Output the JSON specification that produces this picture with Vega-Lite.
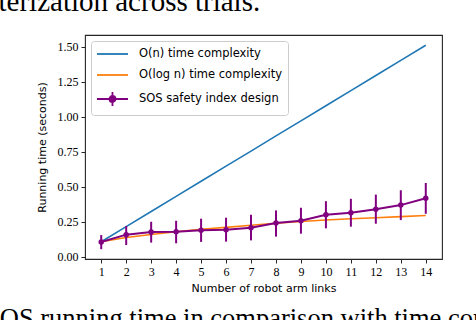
{
  "$schema": "https://vega.github.io/schema/vega-lite/v6.json",
  "autosize": "none",
  "width": 357,
  "height": 224,
  "padding": {"left": 85, "top": 35, "right": 34, "bottom": 61},
  "background": "white",
  "config": {
    "view": {"stroke": "#262626", "strokeWidth": 1.1},
    "axis": {
      "labelFont": "Liberation Serif", "labelFontSize": 12, "labelColor": "black", "labelOverlap": false,
      "tickColor": "#262626", "tickSize": 4, "tickWidth": 1, "domain": false, "grid": false,
      "titleFont": "DejaVu Sans", "titleFontSize": 11, "titleFontWeight": "normal", "titleColor": "black"
    }
  },
  "title": {
    "text": "SOS running time in comparison with time complexity.",
    "orient": "bottom", "anchor": "start", "frame": "group",
    "font": "Liberation Serif", "fontSize": 26.5, "fontWeight": "normal", "color": "black",
    "baseline": "top", "dx": -100, "offset": 13
  },
  "datasets": {
    "lines": [
      {"n": 1, "series": "O(n) time complexity", "time": 0.108},
      {"n": 2, "series": "O(n) time complexity", "time": 0.216},
      {"n": 3, "series": "O(n) time complexity", "time": 0.324},
      {"n": 4, "series": "O(n) time complexity", "time": 0.432},
      {"n": 5, "series": "O(n) time complexity", "time": 0.54},
      {"n": 6, "series": "O(n) time complexity", "time": 0.648},
      {"n": 7, "series": "O(n) time complexity", "time": 0.756},
      {"n": 8, "series": "O(n) time complexity", "time": 0.864},
      {"n": 9, "series": "O(n) time complexity", "time": 0.972},
      {"n": 10, "series": "O(n) time complexity", "time": 1.08},
      {"n": 11, "series": "O(n) time complexity", "time": 1.188},
      {"n": 12, "series": "O(n) time complexity", "time": 1.296},
      {"n": 13, "series": "O(n) time complexity", "time": 1.404},
      {"n": 14, "series": "O(n) time complexity", "time": 1.512},
      {"n": 1, "series": "O(log n) time complexity", "time": 0.108},
      {"n": 2, "series": "O(log n) time complexity", "time": 0.138},
      {"n": 3, "series": "O(log n) time complexity", "time": 0.16},
      {"n": 4, "series": "O(log n) time complexity", "time": 0.18},
      {"n": 5, "series": "O(log n) time complexity", "time": 0.197},
      {"n": 6, "series": "O(log n) time complexity", "time": 0.211},
      {"n": 7, "series": "O(log n) time complexity", "time": 0.226},
      {"n": 8, "series": "O(log n) time complexity", "time": 0.24},
      {"n": 9, "series": "O(log n) time complexity", "time": 0.253},
      {"n": 10, "series": "O(log n) time complexity", "time": 0.264},
      {"n": 11, "series": "O(log n) time complexity", "time": 0.273},
      {"n": 12, "series": "O(log n) time complexity", "time": 0.28},
      {"n": 13, "series": "O(log n) time complexity", "time": 0.288},
      {"n": 14, "series": "O(log n) time complexity", "time": 0.296}
    ],
    "sos": [
      {"n": 1, "series": "SOS safety index design", "time": 0.107, "lo": 0.055, "hi": 0.156},
      {"n": 2, "series": "SOS safety index design", "time": 0.159, "lo": 0.085, "hi": 0.22},
      {"n": 3, "series": "SOS safety index design", "time": 0.178, "lo": 0.102, "hi": 0.251},
      {"n": 4, "series": "SOS safety index design", "time": 0.18, "lo": 0.097, "hi": 0.258},
      {"n": 5, "series": "SOS safety index design", "time": 0.19, "lo": 0.107, "hi": 0.273},
      {"n": 6, "series": "SOS safety index design", "time": 0.194, "lo": 0.109, "hi": 0.28},
      {"n": 7, "series": "SOS safety index design", "time": 0.209, "lo": 0.118, "hi": 0.301},
      {"n": 8, "series": "SOS safety index design", "time": 0.242, "lo": 0.145, "hi": 0.332},
      {"n": 9, "series": "SOS safety index design", "time": 0.258, "lo": 0.166, "hi": 0.351},
      {"n": 10, "series": "SOS safety index design", "time": 0.301, "lo": 0.204, "hi": 0.398},
      {"n": 11, "series": "SOS safety index design", "time": 0.315, "lo": 0.216, "hi": 0.415},
      {"n": 12, "series": "SOS safety index design", "time": 0.341, "lo": 0.237, "hi": 0.445},
      {"n": 13, "series": "SOS safety index design", "time": 0.37, "lo": 0.263, "hi": 0.476},
      {"n": 14, "series": "SOS safety index design", "time": 0.419, "lo": 0.308, "hi": 0.528}
    ]
  },
  "resolve": {"axis": {"x": "independent"}},
  "layer": [
    {
      "data": {"name": "lines"},
      "mark": {"type": "line", "strokeWidth": 1.6},
      "encoding": {
        "x": {"field": "n", "type": "quantitative",
          "scale": {"domain": [0.35, 14.65], "nice": false, "zero": false},
          "axis": {"orient": "bottom", "values": [1,2,3,4,5,6,7,8,9,10,11,12,13,14], "title": "Number of robot arm links", "labelPadding": 3, "titlePadding": 5, "labelFlush": false}},
        "y": {"field": "time", "type": "quantitative",
          "scale": {"domain": [-0.015, 1.585], "nice": false, "zero": false},
          "axis": {"values": [0, 0.25, 0.5, 0.75, 1, 1.25, 1.5], "format": ".2f", "title": "Running time (seconds)", "labelPadding": 3, "titlePadding": 10, "labelFlush": false, "labelOverlap": false}},
        "color": {"field": "series", "type": "nominal",
          "scale": {"domain": ["O(n) time complexity", "O(log n) time complexity", "SOS safety index design"], "range": ["#1f77b4", "#ff7f0e", "purple"]},
          "legend": {
            "title": null, "orient": "top-left", "offset": 6, "padding": 5,
            "fillColor": "white", "strokeColor": "#cccccc", "cornerRadius": 3,
            "labelFont": "DejaVu Sans", "labelFontSize": 11.5, "labelColor": "black",
            "labelOffset": 27, "labelLimit": 300, "symbolSize": 196, "symbolStrokeWidth": 1.8, "rowPadding": 7,
            "encode": {"symbols": {"update": {
              "shape": {"signal": "datum.value === 'SOS safety index design' ? 'M-1,0H3.43M1.21,-1V1M1.64,0A0.43,0.43 0 1,1 0.78,0A0.43,0.43 0 1,1 1.64,0Z' : 'M-1,0H3.43'"},
              "fill": {"signal": "datum.value === 'SOS safety index design' ? 'purple' : 'transparent'"}
            }}}
          }}
      }
    },
    {
      "data": {"name": "sos"},
      "mark": {"type": "line", "strokeWidth": 2},
      "encoding": {
        "x": {"field": "n", "type": "quantitative", "scale": {"domain": [0.35, 14.65], "nice": false, "zero": false}, "axis": null},
        "y": {"field": "time", "type": "quantitative",
          "axis": {"values": [0, 0.25, 0.5, 0.75, 1, 1.25, 1.5], "format": ".2f", "title": "Running time (seconds)", "labelPadding": 3, "titlePadding": 10, "labelFlush": false, "labelOverlap": false}},
        "color": {"field": "series", "type": "nominal"}
      }
    },
    {
      "data": {"name": "sos"},
      "mark": {"type": "rule", "strokeWidth": 2, "color": "purple"},
      "encoding": {
        "x": {"field": "n", "type": "quantitative", "scale": {"domain": [0.35, 14.65], "nice": false, "zero": false},
          "axis": {"orient": "top", "domain": false, "ticks": false, "labels": false, "grid": false,
            "title": "terization across trials.", "titleFont": "Liberation Serif", "titleFontSize": 29, "titleFontWeight": "normal", "titleColor": "black",
            "titleAnchor": "start", "titleAlign": "left", "titleBaseline": "alphabetic", "titleX": -87, "titleY": -25, "titleAngle": 0}},
        "y": {"field": "lo", "type": "quantitative",
          "axis": {"values": [0, 0.25, 0.5, 0.75, 1, 1.25, 1.5], "format": ".2f", "title": "Running time (seconds)", "labelPadding": 3, "titlePadding": 10, "labelFlush": false, "labelOverlap": false}},
        "y2": {"field": "hi"}
      }
    },
    {
      "data": {"name": "sos"},
      "mark": {"type": "circle", "size": 30, "color": "purple", "opacity": 1},
      "encoding": {
        "x": {"field": "n", "type": "quantitative", "scale": {"domain": [0.35, 14.65], "nice": false, "zero": false}, "axis": null},
        "y": {"field": "time", "type": "quantitative",
          "axis": {"values": [0, 0.25, 0.5, 0.75, 1, 1.25, 1.5], "format": ".2f", "title": "Running time (seconds)", "labelPadding": 3, "titlePadding": 10, "labelFlush": false, "labelOverlap": false}}
      }
    }
  ]
}
